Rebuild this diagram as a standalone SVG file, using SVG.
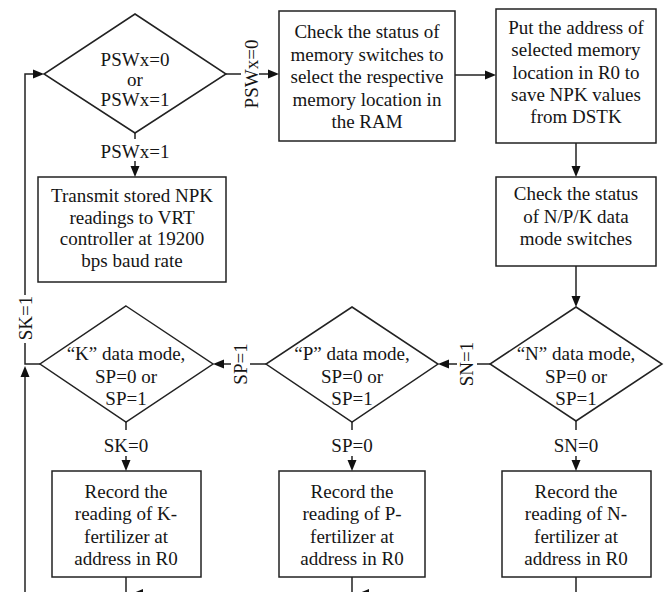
<svg xmlns="http://www.w3.org/2000/svg" width="672" height="592" viewBox="0 0 672 592">
<style>
.shape{fill:#fff;stroke:#222;stroke-width:1.5}
.ln{fill:none;stroke:#222;stroke-width:1.5}
.ah{fill:#111;stroke:none}
text{font-family:"Liberation Serif","Times New Roman",serif;font-size:19px;fill:#151515;text-anchor:middle}
</style>
<rect width="672" height="592" fill="#fff"/>
<g id="d_psw">
<polygon class="shape" points="135,14 226,74 135,133 44,74"/>
<text x="135" y="66">PSWx=0</text>
<text x="135" y="86">or</text>
<text x="135" y="106">PSWx=1</text>
</g>
<g id="b_mem">
<rect class="shape" x="279" y="11" width="176" height="130"/>
<text x="367" y="38">Check the status of</text>
<text x="367" y="60.5">memory switches to</text>
<text x="367" y="83">select the respective</text>
<text x="367" y="105.5">memory location in</text>
<text x="367" y="128">the RAM</text>
</g>
<g id="b_addr">
<rect class="shape" x="496" y="9" width="160" height="134"/>
<text x="576" y="34">Put the address of</text>
<text x="576" y="56.3">selected memory</text>
<text x="576" y="78.6">location in R0 to</text>
<text x="576" y="100.9">save NPK values</text>
<text x="576" y="123.2">from DSTK</text>
</g>
<g id="b_mode">
<rect class="shape" x="496" y="177" width="160" height="89"/>
<text x="576" y="200">Check the status</text>
<text x="576" y="222.5">of N/P/K data</text>
<text x="576" y="245">mode switches</text>
</g>
<g id="b_tx">
<rect class="shape" x="38" y="177" width="188" height="105"/>
<text x="132" y="202">Transmit stored NPK</text>
<text x="132" y="223.5">readings to VRT</text>
<text x="132" y="245">controller at 19200</text>
<text x="132" y="266.5">bps baud rate</text>
</g>
<g id="d_n">
<polygon class="shape" points="576,307 662,364 576,421 490,364"/>
<text x="576" y="360">“N” data mode,</text>
<text x="576" y="383">SP=0 or</text>
<text x="576" y="405">SP=1</text>
</g>
<g id="d_p">
<polygon class="shape" points="352,307 438,364 352,422 266,364"/>
<text x="352" y="360">“P” data mode,</text>
<text x="352" y="383">SP=0 or</text>
<text x="352" y="405">SP=1</text>
</g>
<g id="d_k">
<polygon class="shape" points="126,306 213,364 126,422 40,364"/>
<text x="126" y="360">“K” data mode,</text>
<text x="126" y="383">SP=0 or</text>
<text x="126" y="405">SP=1</text>
</g>
<g id="b_n">
<rect class="shape" x="502" y="471" width="149" height="106"/>
<text x="576" y="498">Record the</text>
<text x="576" y="520">reading of N-</text>
<text x="576" y="542.5">fertilizer at</text>
<text x="576" y="565">address in R0</text>
</g>
<g id="b_p">
<rect class="shape" x="279" y="471" width="146" height="106"/>
<text x="352" y="498">Record the</text>
<text x="352" y="520">reading of P-</text>
<text x="352" y="542.5">fertilizer at</text>
<text x="352" y="565">address in R0</text>
</g>
<g id="b_k">
<rect class="shape" x="52" y="471" width="149" height="106"/>
<text x="126" y="498">Record the</text>
<text x="126" y="520">reading of K-</text>
<text x="126" y="542.5">fertilizer at</text>
<text x="126" y="565">address in R0</text>
</g>
<g id="connectors">
<!-- PSWx=0 -->
<path class="ln" d="M226,74 H241 M259,74 H270"/>
<polygon class="ah" points="279,74 268,69.5 268,78.5"/>
<text transform="translate(258,74) rotate(-90)">PSWx=0</text>
<!-- box1 to box2 -->
<path class="ln" d="M455,75 H487"/>
<polygon class="ah" points="496,75 485,70.5 485,79.5"/>
<!-- box2 to box3 -->
<path class="ln" d="M576,143 V168"/>
<polygon class="ah" points="576,177 571.5,166 580.5,166"/>
<!-- box3 to N diamond -->
<path class="ln" d="M576,266 V298"/>
<polygon class="ah" points="576,307 571.5,296 580.5,296"/>
<!-- PSWx=1 -->
<path class="ln" d="M135,133 V139 M135,161 V168"/>
<polygon class="ah" points="135,177 130.5,166 139.5,166"/>
<text x="135" y="158">PSWx=1</text>
<!-- SN=0 -->
<path class="ln" d="M576,421 V430 M576,456 V462"/>
<polygon class="ah" points="576,471 571.5,460 580.5,460"/>
<text x="576" y="452">SN=0</text>
<!-- SP=0 -->
<path class="ln" d="M352,422 V430 M352,456 V462"/>
<polygon class="ah" points="352,471 347.5,460 356.5,460"/>
<text x="352" y="452">SP=0</text>
<!-- SK=0 -->
<path class="ln" d="M126,422 V430 M126,456 V462"/>
<polygon class="ah" points="126,471 121.5,460 130.5,460"/>
<text x="126" y="452">SK=0</text>
<!-- SN=1 -->
<path class="ln" d="M490,364 H477 M457,364 H447"/>
<polygon class="ah" points="438,364 449,359.5 449,368.5"/>
<text transform="translate(473,364) rotate(-90)">SN=1</text>
<!-- SP=1 -->
<path class="ln" d="M266,364 H250 M231,364 H222"/>
<polygon class="ah" points="213,364 224,359.5 224,368.5"/>
<text transform="translate(247,364) rotate(-90)">SP=1</text>
<!-- SK=1 loop -->
<path class="ln" d="M40,364 H25 V343 M25,295 V74 H35"/>
<polygon class="ah" points="44,74 33,69.5 33,78.5"/>
<text transform="translate(31.5,318) rotate(-90)">SK=1</text>
<!-- bottom return line -->
<path class="ln" d="M25,592 V375"/>
<polygon class="ah" points="25,366 20.5,377 29.5,377"/>
<!-- box bottoms -->
<path class="ln" d="M126,577 V592 M352,577 V592 M576,577 V592"/>
<polygon class="ah" points="131,594 143,589 143,599"/>
<polygon class="ah" points="357,594 369,589 369,599"/>
</g>
</svg>
